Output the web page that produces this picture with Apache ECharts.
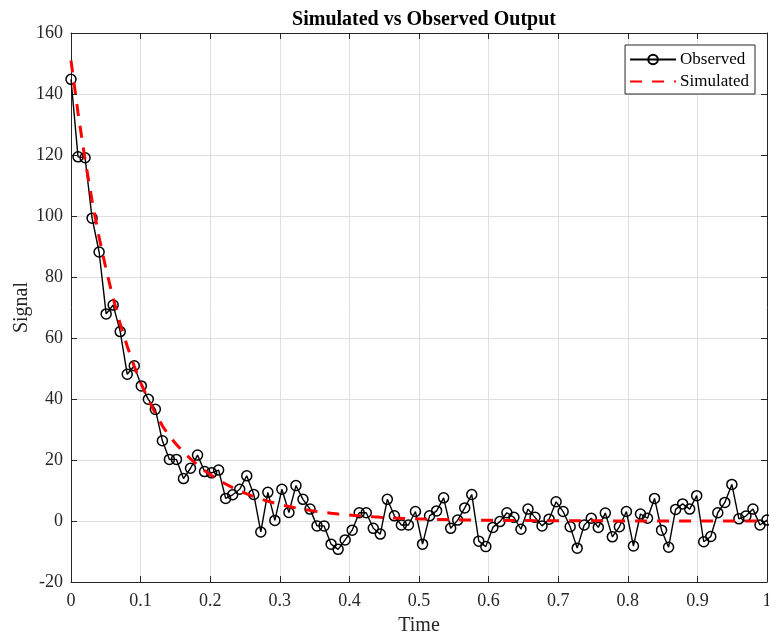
<!DOCTYPE html>
<html>
<head>
<meta charset="utf-8">
<script src="https://cdn.jsdelivr.net/npm/echarts@6/dist/echarts.min.js"></script>
<style>
  html, body { margin: 0; padding: 0; background: #fff; }
  #chart { width: 769px; height: 635px; }
</style>
</head>
<body>
<div id="chart"></div>
<script>
// Sample times (100 evenly spaced samples on [0, 1])
const time = [
  0.0000, 0.0101, 0.0202, 0.0303, 0.0404, 0.0505, 0.0606, 0.0707, 0.0808, 0.0909,
  0.1010, 0.1111, 0.1212, 0.1313, 0.1414, 0.1515, 0.1616, 0.1717, 0.1818, 0.1919,
  0.2020, 0.2121, 0.2222, 0.2323, 0.2424, 0.2525, 0.2626, 0.2727, 0.2828, 0.2929,
  0.3030, 0.3131, 0.3232, 0.3333, 0.3434, 0.3535, 0.3636, 0.3737, 0.3838, 0.3939,
  0.4040, 0.4141, 0.4242, 0.4343, 0.4444, 0.4545, 0.4646, 0.4747, 0.4848, 0.4949,
  0.5051, 0.5152, 0.5253, 0.5354, 0.5455, 0.5556, 0.5657, 0.5758, 0.5859, 0.5960,
  0.6061, 0.6162, 0.6263, 0.6364, 0.6465, 0.6566, 0.6667, 0.6768, 0.6869, 0.6970,
  0.7071, 0.7172, 0.7273, 0.7374, 0.7475, 0.7576, 0.7677, 0.7778, 0.7879, 0.7980,
  0.8081, 0.8182, 0.8283, 0.8384, 0.8485, 0.8586, 0.8687, 0.8788, 0.8889, 0.8990,
  0.9091, 0.9192, 0.9293, 0.9394, 0.9495, 0.9596, 0.9697, 0.9798, 0.9899, 1.0000
];

// Measured signal
const observed = [
  144.8, 119.4, 119.1, 99.3, 88.2, 67.9, 70.8, 62.1, 48.1, 50.9,
  44.3, 39.9, 36.6, 26.3, 20.2, 20.2, 13.9, 17.3, 21.6, 16.2,
  15.8, 16.7, 7.4, 8.6, 10.4, 14.8, 8.7, -3.6, 9.4, 0.2,
  10.4, 2.8, 11.6, 7.1, 3.9, -1.6, -1.6, -7.6, -9.3, -6.2,
  -3.0, 2.7, 2.7, -2.4, -4.3, 7.1, 1.7, -1.3, -1.3, 3.1,
  -7.6, 1.7, 3.3, 7.6, -2.4, 0.3, 4.3, 8.7, -6.6, -8.4,
  -2.1, -0.2, 2.7, 1.2, -2.7, 3.9, 1.2, -1.6, 0.6, 6.3,
  3.1, -1.9, -8.9, -1.3, 0.9, -2.1, 2.6, -5.2, -1.9, 3.1,
  -8.2, 2.3, 0.9, 7.4, -3.0, -8.6, 3.8, 5.6, 3.9, 8.3,
  -6.8, -5.1, 2.7, 6.1, 12.0, 0.7, 1.6, 3.9, -1.3, 0.3
];

// Model response
const simulated = [
  151.0, 133.8, 118.5, 105.0, 93.0, 82.4, 73.0, 64.6, 57.3, 50.7,
  44.9, 39.8, 35.3, 31.2, 27.8, 25.1, 22.63, 20.39, 18.38, 16.56,
  14.93, 13.45, 12.12, 10.92, 9.84, 8.87, 7.99, 7.20, 6.49, 5.85,
  5.27, 4.75, 4.28, 3.86, 3.48, 3.13, 2.82, 2.54, 2.29, 2.07,
  1.86, 1.68, 1.51, 1.36, 1.23, 1.11, 1.00, 0.90, 0.81, 0.73,
  0.66, 0.59, 0.53, 0.48, 0.43, 0.39, 0.35, 0.32, 0.29, 0.26,
  0.23, 0.21, 0.19, 0.17, 0.15, 0.14, 0.12, 0.11, 0.10, 0.09,
  0.08, 0.07, 0.06, 0.06, 0.05, 0.05, 0.04, 0.04, 0.03, 0.03,
  0.03, 0.02, 0.02, 0.02, 0.02, 0.01, 0.01, 0.01, 0.01, 0.01,
  0.01, 0.01, 0.01, 0.01, 0.00, 0.00, 0.00, 0.00, 0.00, 0.00
];

const xTicks = { min: 0, max: 1, interval: 0.1 };
const yTicks = { min: -20, max: 160, interval: 20 };

const FONT = '"Liberation Serif", "Times New Roman", serif';
const AXIS_COLOR = '#262626';
const GRID_COLOR = '#dfdfdf';

const pairs = (xs, ys) => xs.map((x, i) => [x, ys[i]]);

const baseAxis = {
  type: 'value',
  axisLine: { show: true, onZero: false, lineStyle: { color: AXIS_COLOR, width: 1 } },
  axisTick: { show: true, inside: true, length: 6, lineStyle: { color: AXIS_COLOR, width: 1 } },
  minorTick: { show: false }
};

const chart = echarts.init(document.getElementById('chart'), null, { renderer: 'canvas' });

chart.setOption({
  animation: false,
  backgroundColor: '#ffffff',
  textStyle: { fontFamily: FONT },
  title: {
    text: 'Simulated vs Observed Output',
    left: 419,
    top: 5,
    textAlign: 'center',
    textStyle: { fontFamily: FONT, fontWeight: 'bold', fontSize: 20, color: '#000' }
  },
  grid: { left: 71, right: 2, top: 33, bottom: 53, containLabel: false, outerBoundsMode: 'none' },
  legend: {
    orient: 'vertical',
    right: 14,
    top: 45,
    backgroundColor: '#ffffff',
    borderColor: AXIS_COLOR,
    borderWidth: 1,
    borderRadius: 0,
    padding: [6, 6, 4, 4],
    itemGap: 5,
    itemWidth: 46,
    itemHeight: 12,
    textStyle: { fontFamily: FONT, fontSize: 17, color: '#000', padding: [0, 0, 0, -1] },
    data: [
      { name: 'Observed', itemStyle: { color: 'rgba(255,255,255,0)' } },
      { name: 'Simulated', itemStyle: { opacity: 0 } }
    ]
  },
  xAxis: [
    Object.assign({}, baseAxis, {
      min: xTicks.min, max: xTicks.max, interval: xTicks.interval,
      position: 'bottom',
      name: 'Time',
      nameLocation: 'middle',
      nameGap: 34,
      nameMoveOverlap: false,
      nameTextStyle: { fontFamily: FONT, fontSize: 20, color: '#262626' },
      axisLabel: { fontFamily: FONT, fontSize: 18, color: '#262626', margin: 10 },
      splitLine: { show: true, lineStyle: { color: GRID_COLOR, width: 1 } }
    }),
    Object.assign({}, baseAxis, {
      min: xTicks.min, max: xTicks.max, interval: xTicks.interval,
      position: 'top',
      axisLabel: { show: false },
      splitLine: { show: false }
    })
  ],
  yAxis: [
    Object.assign({}, baseAxis, {
      min: yTicks.min, max: yTicks.max, interval: yTicks.interval,
      position: 'left',
      name: 'Signal',
      nameLocation: 'middle',
      nameGap: 39,
      nameMoveOverlap: false,
      nameRotate: 90,
      nameTextStyle: { fontFamily: FONT, fontSize: 20, color: '#262626' },
      axisLabel: { fontFamily: FONT, fontSize: 18, color: '#262626', margin: 8 },
      splitLine: { show: true, lineStyle: { color: GRID_COLOR, width: 1 } }
    }),
    Object.assign({}, baseAxis, {
      min: yTicks.min, max: yTicks.max, interval: yTicks.interval,
      position: 'right',
      axisLabel: { show: false },
      splitLine: { show: false }
    })
  ],
  series: [
    {
      name: 'Observed',
      type: 'line',
      xAxisIndex: 0,
      yAxisIndex: 0,
      data: pairs(time, observed),
      symbol: 'circle',
      symbolSize: 10,
      showSymbol: true,
      lineStyle: { color: '#000', width: 1.4 },
      itemStyle: { color: 'rgba(255,255,255,0)', borderColor: '#000', borderWidth: 1.5 },
      emphasis: { disabled: true },
      z: 2
    },
    {
      name: 'Simulated',
      type: 'line',
      xAxisIndex: 0,
      yAxisIndex: 0,
      data: pairs(time, simulated),
      symbol: 'none',
      showSymbol: false,
      smooth: false,
      lineStyle: { color: '#ff0000', width: 3, type: [12, 10] },
      itemStyle: { color: '#ff0000' },
      emphasis: { disabled: true },
      z: 3
    }
  ]
});
</script>
</body>
</html>
